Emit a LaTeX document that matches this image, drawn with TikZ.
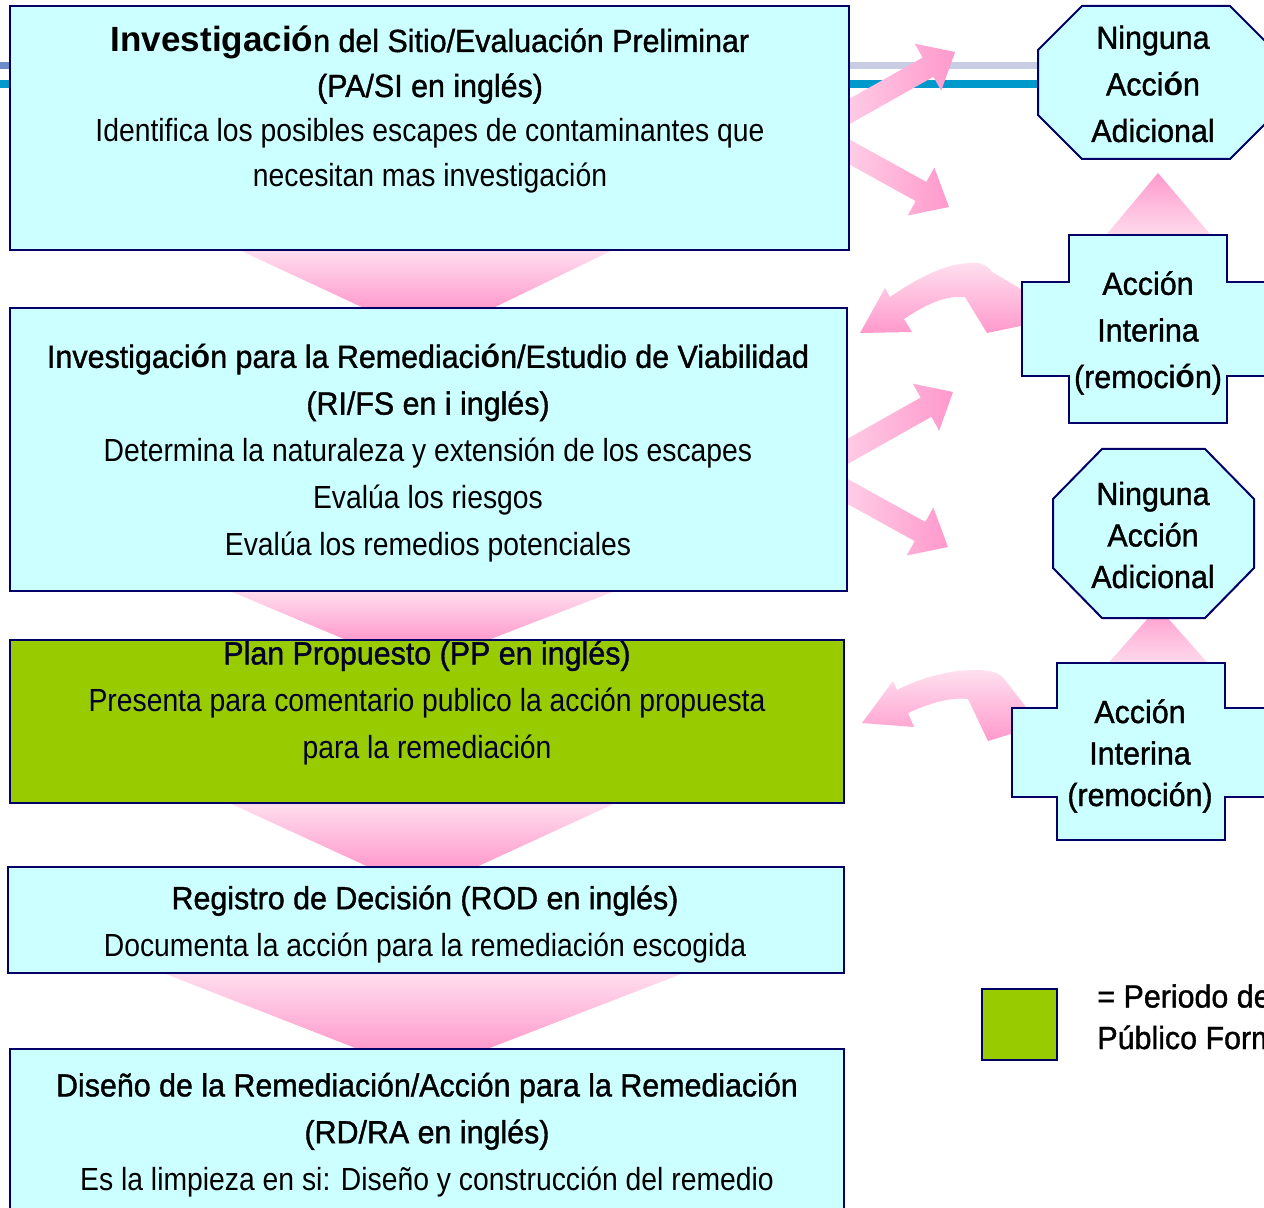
\documentclass[tikz,border=0pt]{standalone}
\usepackage{fontspec}
\setmainfont{Liberation Sans}[FakeStretch=0.885]
\newfontfamily\tfont{Liberation Sans}[FakeStretch=0.95,FakeBold=1.2]
\newfontfamily\wfont{Liberation Sans}
\newcommand\bo[1]{{\wfont\bfseries #1}}
\usetikzlibrary{fit}
\definecolor{cyanbox}{RGB}{204,255,255}
\definecolor{navy}{RGB}{0,0,102}
\definecolor{grn}{RGB}{153,204,0}
\definecolor{pinkL}{RGB}{255,224,239}
\definecolor{pinkD}{RGB}{255,153,204}
\definecolor{tealline}{RGB}{0,153,204}
\definecolor{lav}{RGB}{200,205,228}
\definecolor{lavD}{RGB}{110,140,200}
\definecolor{dtext}{RGB}{0,0,40}
\tikzset{
  box/.style={draw=navy, line width=1pt, fill=cyanbox, inner sep=0pt},
  gbox/.style={box, fill=grn},
  shp/.style={draw=navy, line width=1pt, fill=cyanbox},
  txt/.style={align=center, anchor=base, inner sep=0pt, font=\fontsize{16pt}{23.4pt}\selectfont},
  txts/.style={align=center, anchor=base, inner sep=0pt, font=\fontsize{16pt}{20.75pt}\selectfont\tfont},
  vgrad/.style={top color=pinkL, bottom color=pinkD},
  ugrad/.style={top color=pinkD, bottom color=pinkL},
  hgrad/.style={left color=pinkL, right color=pinkD}
}
\begin{document}
\begin{tikzpicture}[x=0.5pt,y=-0.5pt]
\useasboundingbox (0,0) rectangle (1264,1208);
\clip (0,0) rectangle (1264,1208);
\fill[white] (0,0) rectangle (1264,1208);

% background lines
\fill[lavD] (0,62) rectangle (12,69);
\fill[lav] (849,62) rectangle (1040,69);
\fill[tealline] (0,80) rectangle (1040,88);

% trapezoid connectors between boxes
\shade[vgrad] (235,248) -- (617,248) -- (489,310) -- (368,310) -- cycle;
\shade[vgrad] (225,589) -- (620,589) -- (483,642) -- (351,642) -- cycle;
\shade[vgrad] (225,801) -- (620,801) -- (472,869) -- (373,869) -- cycle;
\shade[vgrad] (158,971) -- (689,971) -- (482,1051) -- (363,1051) -- cycle;

% straight arrows from box 1
\shade[hgrad] (811.6,145.4) -- (933.4,76.8) -- (941.2,90.7) -- (955,52) -- (914.8,43.7) -- (922.6,57.6) -- (800.8,126.2) -- cycle;
\shade[hgrad] (810.7,143.1) -- (915.7,201.1) -- (907.7,215.5) -- (949,207) -- (934.3,167.5) -- (926.3,181.9) -- (821.3,123.9) -- cycle;
% straight arrows from box 2
\begin{scope}[shift={(-2,340)}]
\shade[hgrad] (811.6,145.4) -- (933.4,76.8) -- (941.2,90.7) -- (955,52) -- (914.8,43.7) -- (922.6,57.6) -- (800.8,126.2) -- cycle;
\end{scope}
\begin{scope}[shift={(-1,340)}]
\shade[hgrad] (810.7,143.1) -- (915.7,201.1) -- (907.7,215.5) -- (949,207) -- (934.3,167.5) -- (926.3,181.9) -- (821.3,123.9) -- cycle;
\end{scope}

% curved arrows from the interim actions
\shade[vgrad] (1040,322) -- (987,333) -- (965,297)
  .. controls (945,295) and (925,305) .. (904,319)
  -- (912,332) -- (860,333) -- (885,288) -- (890,297)
  .. controls (915,280) and (945,262) .. (975,263)
  .. controls (983,263) and (988,266) .. (992,272) -- (1040,300) -- cycle;
\shade[vgrad] (1040,725) -- (988,741) -- (968,699)
  .. controls (950,697) and (930,703) .. (908,713)
  -- (914,727) -- (862,723) -- (893,681) -- (897,690)
  .. controls (920,678) and (950,670) .. (973,670)
  .. controls (990,670) and (1000,672) .. (1005,680) -- (1040,725) -- cycle;

% upward triangles
\shade[ugrad] (1158,173) -- (1215,240) -- (1102,240) -- cycle;
\shade[ugrad] (1158,607) -- (1212,668) -- (1104,668) -- cycle;

% main boxes
\node[box, fit={(10,6) (849,250)}] (b1) {};
\node[box, fit={(10,308) (847,591)}] (b2) {};
\node[gbox, fit={(10,640) (844,803)}] (b3) {};
\node[box, fit={(8,867) (844,973)}] (b4) {};
\node[box, fit={(10,1049) (844,1216)}] (b5) {};

% right shapes
\draw[shp] (1082,6) -- (1230,6) -- (1274,50) -- (1274,115) -- (1230,159) -- (1082,159) -- (1038,115) -- (1038,50) -- cycle;
\draw[shp] (1069,235) -- (1227,235) -- (1227,282) -- (1280,282) -- (1280,376) -- (1227,376) -- (1227,423) -- (1069,423) -- (1069,376) -- (1022,376) -- (1022,282) -- (1069,282) -- cycle;
\draw[shp] (1102,449) -- (1205,449) -- (1254,499) -- (1254,568) -- (1205,618) -- (1102,618) -- (1053,568) -- (1053,499) -- cycle;
\draw[shp] (1057,663) -- (1225,663) -- (1225,708) -- (1280,708) -- (1280,797) -- (1225,797) -- (1225,840) -- (1057,840) -- (1057,797) -- (1012,797) -- (1012,708) -- (1057,708) -- cycle;

% legend
\node[gbox, fit={(982,989) (1057,1060)}] (leg) {};

% texts (anchor = baseline of the last line)
\node[txt, font=\fontsize{16pt}{22.5pt}\selectfont] (t1) at (430,187)
  {\tfont{\fontsize{17.5pt}{22.5pt}\selectfont\bo{Investigació}}n del Sitio/Evaluación Preliminar\\
   \tfont (PA/SI en inglés)\\
   \normalfont Identifica los posibles escapes de contaminantes que\\
   necesitan mas investigación};
\node[txt] (t2) at (428,555)
  {\tfont Investigaci\bo{ó}n para la Remediaci\bo{ó}n/Estudio de Viabilidad\\
   \tfont (RI/FS en i inglés)\\
   \normalfont Determina la naturaleza y extensión de los escapes\\
   Evalúa los riesgos\\
   Evalúa los remedios potenciales};
\node[txt, text=dtext] (t3) at (427,758)
  {\tfont Plan Propuesto (PP en inglés)\\
   \normalfont Presenta para comentario publico la acción propuesta\\
   para la remediación};
\node[txt] (t4) at (425,956)
  {\tfont Registro de Decisión (ROD en inglés)\\
   \normalfont Documenta la acción para la remediación escogida};
\node[txt] (t5) at (427,1190)
  {\tfont Diseño de la Remediación/Acción para la Remediación\\
   \tfont (RD/RA en inglés)\\
   \normalfont Es la limpieza en si: Diseño y construcción del remedio};

\node[txts, font=\fontsize{16pt}{23.3pt}\selectfont\tfont] (o1) at (1153,142)
  {Ninguna\\Acci\bo{ó}n\\Adicional};
\node[txts, font=\fontsize{16pt}{23.3pt}\selectfont\tfont] (p1) at (1148,388)
  {Acción\\Interina\\(remoci\bo{ó}n)};
\node[txts] (o2) at (1153,588) {Ninguna\\Acción\\Adicional};
\node[txts] (p2) at (1140,806) {Acción\\Interina\\(remoción)};

\node[txts, align=left, anchor=base west] (legt) at (1097,1049)
  {= Periodo de Comentario\\Público Formal};
\end{tikzpicture}
\end{document}
